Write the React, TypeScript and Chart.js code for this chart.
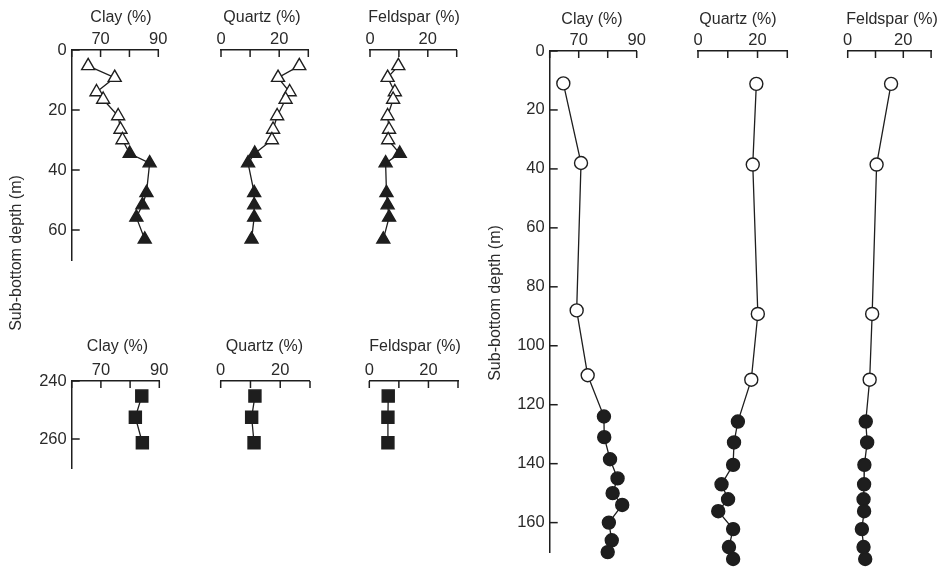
import React, { useEffect, useRef } from 'react';
import { Chart, registerables } from 'chart.js';

Chart.register(...registerables);

// ---------- data ----------
// Upper interval, left group (0–70 m)
const upperDepth = [5.3, 9.2, 14, 16.5, 22, 26.5, 30, 34.5, 37.7, 47.6, 51.7, 55.8, 63.1];
const upperClay = [65.7, 74.9, 68.6, 70.9, 76.1, 76.9, 77.6, 80.1, 87.0, 85.9, 84.5, 82.4, 85.3];
const upperQuartz = [26.9, 19.6, 23.6, 22.2, 19.3, 17.9, 17.5, 11.6, 9.3, 11.4, 11.4, 11.4, 10.5];
const upperFeldspar = [9.8, 6.1, 8.6, 8.0, 6.1, 6.6, 6.3, 10.3, 5.4, 5.7, 6.1, 6.6, 4.6];
const upperFilled = [false, false, false, false, false, false, false, true, true, true, true, true, true];

// Lower interval, left group (240–270 m)
const lowerDepth = [245.2, 252.5, 261.3];
const lowerClay = [84.0, 81.8, 84.2];
const lowerQuartz = [11.5, 10.4, 11.2];
const lowerFeldspar = [6.4, 6.3, 6.3];
const lowerFilled = [true, true, true];

// Right group (0–170 m)
const rightDepth = [11, 38, 88, 110, 124, 131, 138.5, 145, 150, 154, 160, 166, 170];
const rightClay = [64.7, 70.8, 69.3, 73.1, 78.7, 78.8, 80.8, 83.4, 81.7, 85.0, 80.4, 81.4, 80.0];
const rightQuartz = [19.6, 18.4, 20.1, 17.9, 13.4, 12.1, 11.8, 7.9, 10.1, 6.8, 11.8, 10.4, 11.8];
const rightFeldspar = [15.6, 10.4, 8.8, 7.9, 6.5, 7.0, 6.0, 5.9, 5.7, 5.9, 5.1, 5.7, 6.3];
const rightFilled = [false, false, false, false, true, true, true, true, true, true, true, true, true];

// ticks
const clayTicks = [60, 70, 80, 90];
const clayTickLabels = [70, 90];
const pctTicks = [0, 10, 20, 30];
const pctTickLabels = [0, 20];
const upperDepthTicks = [0, 20, 40, 60];
const lowerDepthTicks = [240, 260];
const rightDepthTicks = [0, 20, 40, 60, 80, 100, 120, 140, 160];

const yAxisTitle = 'Sub-bottom depth (m)';

// ---------- style ----------
const W = 939;
const H = 567;
const INK = '#1e1e1e';
const TEXT = '#2a2a2a';
const FONT = "'Liberation Sans', Arial, Helvetica, sans-serif";

type Area = { l: number; r: number; t: number; b: number };
type Panel = {
  title: string;
  titlePos: { x: number; y: number };
  depth: number[];
  values: number[];
  filled: boolean[];
  marker: 'triangle' | 'circle' | 'rect';
  radius: number;
  xMin: number;
  xMax: number;
  xTicks: number[];
  xLabels: number[];
  yMin: number;
  yMax: number;
  yTicks: number[];
  showY: boolean;
  area: Area;
  yTitle?: { x: number; y: number };
};

const UP = { t: 50, b: 260 };
const LO = { t: 381, b: 468 };
const RT = { t: 51, b: 559 };

const panels: Panel[] = [
  { title: 'Clay (%)', titlePos: { x: 121, y: 18 }, depth: upperDepth, values: upperClay, filled: upperFilled,
    marker: 'triangle', radius: 7.5, xMin: 60, xMax: 90, xTicks: clayTicks, xLabels: clayTickLabels,
    yMin: 0, yMax: 70, yTicks: upperDepthTicks, showY: true, area: { l: 71.7, r: 158.3, ...UP },
    yTitle: { x: 17, y: 253 } },
  { title: 'Quartz (%)', titlePos: { x: 262, y: 18 }, depth: upperDepth, values: upperQuartz, filled: upperFilled,
    marker: 'triangle', radius: 7.5, xMin: 0, xMax: 30, xTicks: pctTicks, xLabels: pctTickLabels,
    yMin: 0, yMax: 70, yTicks: upperDepthTicks, showY: false, area: { l: 221, r: 308.3, ...UP } },
  { title: 'Feldspar (%)', titlePos: { x: 414, y: 18 }, depth: upperDepth, values: upperFeldspar, filled: upperFilled,
    marker: 'triangle', radius: 7.5, xMin: 0, xMax: 30, xTicks: pctTicks, xLabels: pctTickLabels,
    yMin: 0, yMax: 70, yTicks: upperDepthTicks, showY: false, area: { l: 370, r: 456.7, ...UP } },
  { title: 'Clay (%)', titlePos: { x: 117.5, y: 347 }, depth: lowerDepth, values: lowerClay, filled: lowerFilled,
    marker: 'rect', radius: 8.5, xMin: 60, xMax: 90, xTicks: clayTicks, xLabels: clayTickLabels,
    yMin: 240, yMax: 270, yTicks: lowerDepthTicks, showY: true, area: { l: 71.7, r: 159.3, ...LO } },
  { title: 'Quartz (%)', titlePos: { x: 264.5, y: 347 }, depth: lowerDepth, values: lowerQuartz, filled: lowerFilled,
    marker: 'rect', radius: 8.5, xMin: 0, xMax: 30, xTicks: pctTicks, xLabels: pctTickLabels,
    yMin: 240, yMax: 270, yTicks: lowerDepthTicks, showY: false, area: { l: 220.7, r: 310, ...LO } },
  { title: 'Feldspar (%)', titlePos: { x: 415, y: 347 }, depth: lowerDepth, values: lowerFeldspar, filled: lowerFilled,
    marker: 'rect', radius: 8.5, xMin: 0, xMax: 30, xTicks: pctTicks, xLabels: pctTickLabels,
    yMin: 240, yMax: 270, yTicks: lowerDepthTicks, showY: false, area: { l: 369.3, r: 458, ...LO } },
  { title: 'Clay (%)', titlePos: { x: 592, y: 20 }, depth: rightDepth, values: rightClay, filled: rightFilled,
    marker: 'circle', radius: 6.5, xMin: 60, xMax: 90, xTicks: clayTicks, xLabels: clayTickLabels,
    yMin: 0, yMax: 170, yTicks: rightDepthTicks, showY: true, area: { l: 549.7, r: 636.7, ...RT },
    yTitle: { x: 496, y: 303 } },
  { title: 'Quartz (%)', titlePos: { x: 738, y: 20 }, depth: rightDepth, values: rightQuartz, filled: rightFilled,
    marker: 'circle', radius: 6.5, xMin: 0, xMax: 30, xTicks: pctTicks, xLabels: pctTickLabels,
    yMin: 0, yMax: 170, yTicks: rightDepthTicks, showY: false, area: { l: 698, r: 787.3, ...RT } },
  { title: 'Feldspar (%)', titlePos: { x: 892, y: 20 }, depth: rightDepth, values: rightFeldspar, filled: rightFilled,
    marker: 'circle', radius: 6.5, xMin: 0, xMax: 30, xTicks: pctTicks, xLabels: pctTickLabels,
    yMin: 0, yMax: 170, yTicks: rightDepthTicks, showY: false, area: { l: 847.7, r: 938.7, ...RT } },
];

const TITLE_SIZE = 16;
const TICK_SIZE = 16.5;
const X_AXIS_H = 22;
const Y_AXIS_W = 40;

// draws inward tick marks, the panel title and the rotated depth title
const panelDecor = {
  id: 'panelDecor',
  afterDraw(chart: any, _args: any, opts: any) {
    const ctx = chart.ctx;
    const { left, top } = chart.chartArea;
    ctx.save();
    ctx.strokeStyle = INK;
    ctx.lineWidth = 1.5;
    const xs = chart.scales.x;
    xs.ticks.forEach((t: any) => {
      const px = xs.getPixelForValue(t.value);
      ctx.beginPath();
      ctx.moveTo(px, top);
      ctx.lineTo(px, top + 7);
      ctx.stroke();
    });
    const ys = chart.scales.y;
    if (ys.options.display) {
      ys.ticks.forEach((t: any) => {
        const py = ys.getPixelForValue(t.value);
        ctx.beginPath();
        ctx.moveTo(left, py);
        ctx.lineTo(left + 8, py);
        ctx.stroke();
      });
    }
    ctx.fillStyle = TEXT;
    ctx.font = `${TITLE_SIZE}px ${FONT}`;
    ctx.textAlign = 'center';
    ctx.textBaseline = 'middle';
    if (opts && opts.title) {
      ctx.fillText(opts.title, opts.titlePos.x, opts.titlePos.y);
    }
    if (opts && opts.yTitle) {
      ctx.translate(opts.yTitle.x, opts.yTitle.y);
      ctx.rotate(-Math.PI / 2);
      ctx.fillText(opts.yTitleText, 0, 0);
    }
    ctx.restore();
  },
};

function PanelChart({ p }: { p: Panel }) {
  const ref = useRef<HTMLCanvasElement | null>(null);
  useEffect(() => {
    if (!ref.current) return;
    const yW = p.showY ? Y_AXIS_W : 0;
    const chart = new Chart(ref.current, {
      type: 'scatter',
      data: {
        datasets: [
          {
            data: p.depth.map((d, i) => ({ x: p.values[i], y: d })),
            showLine: true,
            borderColor: INK,
            borderWidth: 1.3,
            pointStyle: p.marker,
            pointRadius: p.radius,
            pointHoverRadius: p.radius,
            pointBackgroundColor: p.filled.map((f) => (f ? INK : '#ffffff')),
            pointBorderColor: INK,
            pointBorderWidth: 1.4,
            clip: false,
          } as any,
        ],
      },
      options: {
        responsive: false,
        animation: false,
        devicePixelRatio: 1,
        events: [],
        layout: {
          padding: {
            left: p.area.l - yW,
            top: p.area.t - X_AXIS_H,
            right: W - p.area.r,
            bottom: H - p.area.b,
          },
        },
        plugins: {
          legend: { display: false },
          tooltip: { enabled: false },
          title: { display: false },
          panelDecor: {
            title: p.title,
            titlePos: p.titlePos,
            yTitle: p.yTitle,
            yTitleText: yAxisTitle,
          },
        } as any,
        scales: {
          x: {
            type: 'linear',
            position: 'top',
            min: p.xMin,
            max: p.xMax,
            afterFit: (s: any) => {
              s.height = X_AXIS_H;
            },
            afterBuildTicks: (s: any) => {
              s.ticks = p.xTicks.map((v) => ({ value: v }));
            },
            ticks: {
              padding: 1,
              autoSkip: false,
              maxRotation: 0,
              color: TEXT,
              font: { family: FONT, size: TICK_SIZE },
              callback: (v: any) => (p.xLabels.includes(Number(v)) ? String(v) : ''),
            },
            grid: { display: false, drawTicks: false },
            border: { display: true, color: INK, width: 1.5 },
          },
          y: {
            type: 'linear',
            reverse: true,
            display: p.showY,
            min: p.yMin,
            max: p.yMax,
            afterFit: (s: any) => {
              s.width = yW;
            },
            afterBuildTicks: (s: any) => {
              s.ticks = p.yTicks.map((v) => ({ value: v }));
            },
            ticks: {
              padding: 5,
              autoSkip: false,
              color: TEXT,
              font: { family: FONT, size: TICK_SIZE },
              callback: (v: any) => String(v),
            },
            grid: { display: false, drawTicks: false },
            border: { display: true, color: INK, width: 1.5 },
          },
        },
      } as any,
      plugins: [panelDecor as any],
    });
    return () => chart.destroy();
  }, [p]);
  return (
    <canvas
      ref={ref}
      width={W}
      height={H}
      style={{ position: 'absolute', left: 0, top: 0, width: W, height: H }}
    />
  );
}

export default function App() {
  return (
    <div style={{ position: 'fixed', left: 0, top: 0, width: W, height: H, background: '#ffffff' }}>
      {panels.map((p, i) => (
        <PanelChart key={i} p={p} />
      ))}
    </div>
  );
}
